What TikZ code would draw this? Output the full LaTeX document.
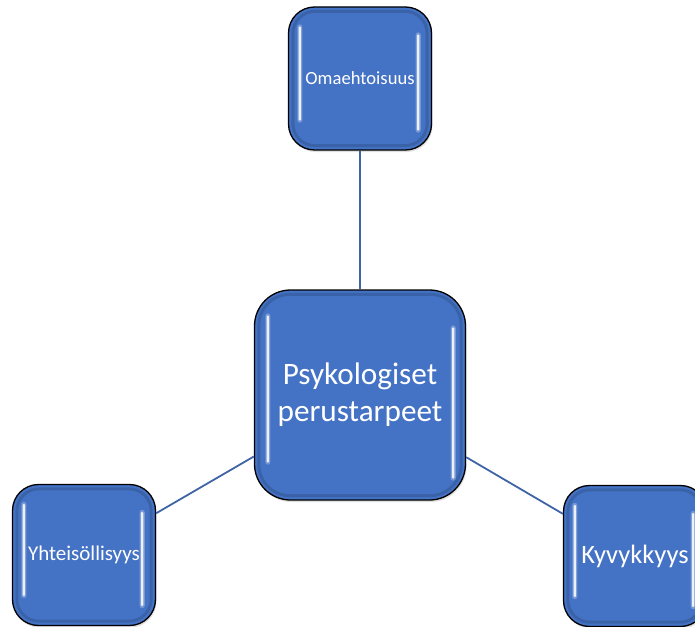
\documentclass[tikz,border=0pt]{standalone}
\usepackage{fontspec}
\setmainfont{Carlito}
\usetikzlibrary{calc,shadows}
\definecolor{boxblue}{HTML}{4472C4}
\definecolor{linkblue}{HTML}{3F64A6}
\tikzset{
  box/.style={draw=black, line width=1.3pt, fill=boxblue, rounded corners=#1,
    inner sep=0pt, align=center, text=white,
    drop shadow={opacity=0.25, shadow xshift=1pt, shadow yshift=-2pt}},
  link/.style={draw=linkblue, line width=1.8pt},
  glow/.style={fill=white!45!boxblue, opacity=0.6, rounded corners=2.5pt},
  gloss/.style={fill=white!90!boxblue, rounded corners=1.2pt},
  rim/.style={draw=boxblue!55!black, line width=3pt, opacity=0.3}
}
\newcommand{\strip}[2]{%
  \fill[glow] ($#1+(-2.6,-2)$) rectangle ($#2+(2.6,2)$);
  \fill[gloss] ($#1+(-1.3,0)$) rectangle ($#2+(1.3,0)$);
}
\begin{document}
\begin{tikzpicture}[x=1pt,y=-1pt]
\useasboundingbox (0,0) rectangle (695,626);
\clip (0,0) rectangle (695,626);
\node[box=26pt, minimum width=143pt, minimum height=143pt, font=\fontsize{18.6}{22}\selectfont] (top) at (360,78.5) {Omaehtoisuus};
\node[box=36pt, minimum width=211pt, minimum height=210pt, font=\fontsize{31.2}{37}\selectfont] (mid) at (360,395) {Psykologiset\\perustarpeet};
\node[box=26pt, minimum width=143pt, minimum height=141pt, font=\fontsize{21}{25}\selectfont] (left) at (84,555) {Yhteisöllisyys};
\node[box=26pt, minimum width=143pt, minimum height=141pt, font=\fontsize{26.5}{31}\selectfont] (right) at (635,556) {Kyvykkyys};
% inner rims
\foreach \n/\r in {top/22, mid/31, left/22, right/22}{
  \draw[rim, rounded corners=\r pt] ($(\n.north west)+(5,5)$) rectangle ($(\n.south east)+(-5,-5)$);
}
% gloss strips
\foreach \n in {top,left,right}{
  \strip{(\n.north west)+(12,20)}{(\n.south west)+(12,-30)}
  \strip{(\n.north east)+(-14,28)}{(\n.south east)+(-14,-20)}
}
\strip{(mid.north west)+(14,26)}{(mid.south west)+(14,-38)}
\strip{(mid.north east)+(-13,38)}{(mid.south east)+(-13,-22)}
% connectors
\draw[link] (mid) -- (top);
\draw[link] (mid) -- (left);
\draw[link] (mid) -- (right);
\end{tikzpicture}
\end{document}
